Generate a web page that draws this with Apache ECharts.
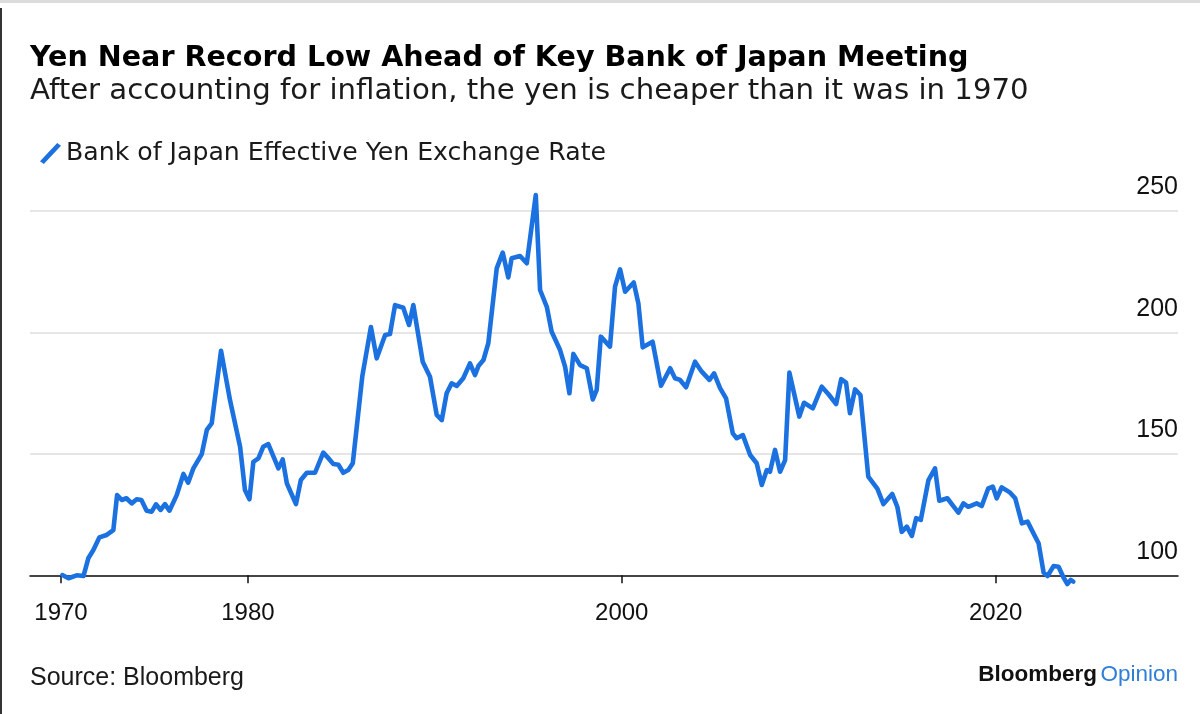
<!DOCTYPE html>
<html>
<head>
<meta charset="utf-8">
<script src="https://cdn.jsdelivr.net/npm/echarts@6/dist/echarts.min.js"></script>
<style>
html,body{margin:0;padding:0;background:#fff;}
#chart{width:1200px;height:714px;}
</style>
</head>
<body>
<div id="chart"></div>
<script>
// ---- Data ----
const dates = [
1970.07,1970.40,1970.84,1971.20,1971.46,1971.73,1972.05,1972.44,1972.80,1973.00,
1973.25,1973.50,1973.78,1974.05,1974.30,1974.58,1974.85,1975.08,1975.33,1975.56,
1975.80,1976.19,1976.55,1976.80,1977.08,1977.53,1977.80,1978.06,1978.56,1979.04,
1979.58,1979.84,1980.08,1980.29,1980.56,1980.82,1981.09,1981.63,1981.86,1982.08,
1982.57,1982.83,1983.15,1983.59,1984.03,1984.35,1984.57,1984.84,1985.10,1985.37,
1985.61,1986.12,1986.58,1986.89,1987.34,1987.60,1987.87,1988.31,1988.62,1988.85,
1989.35,1989.74,1990.10,1990.37,1990.63,1990.90,1991.17,1991.52,1991.88,1992.15,
1992.33,1992.60,1992.86,1993.31,1993.63,1993.93,1994.11,1994.56,1994.92,1995.40,
1995.63,1995.99,1996.25,1996.70,1996.97,1997.20,1997.41,1997.77,1998.13,1998.45,
1998.66,1998.88,1999.37,1999.64,1999.91,2000.18,2000.64,2000.89,2001.12,2001.65,
2002.10,2002.59,2002.85,2003.12,2003.44,2003.92,2004.28,2004.69,2004.94,2005.26,
2005.58,2005.94,2006.15,2006.48,2006.87,2007.22,2007.49,2007.76,2007.93,2008.20,
2008.47,2008.74,2008.97,2009.50,2009.75,2010.22,2010.70,2011.05,2011.47,2011.74,
2012.00,2012.21,2012.48,2012.77,2013.19,2013.68,2014.00,2014.47,2014.75,2014.98,
2015.25,2015.52,2015.75,2016.00,2016.41,2016.76,2016.99,2017.42,2017.74,2018.01,
2018.28,2018.54,2018.99,2019.26,2019.61,2019.85,2020.06,2020.33,2020.78,2021.05,
2021.41,2021.71,2021.94,2022.30,2022.57,2022.78,2023.10,2023.37,2023.63,2023.84,
2024.02,2024.16
];
const values = [
100.1,98.8,100.0,99.7,107.0,110.4,115.6,116.6,118.6,133.0,
131.0,131.7,129.6,131.3,131.0,126.6,126.2,129.2,126.9,129.3,
126.6,133.0,141.7,138.1,144.0,149.9,159.8,162.5,192.4,172.1,
152.9,135.1,131.3,146.7,148.1,152.9,154.0,144.0,147.7,137.9,
129.3,139.2,142.2,142.2,150.5,147.8,145.8,145.5,142.2,143.3,
146.1,182.0,202.2,189.3,198.9,199.3,211.2,210.1,203.0,211.2,
187.9,181.7,166.0,163.9,174.9,179.0,177.9,181.1,187.2,182.4,
186.1,188.6,195.5,226.3,232.8,222.6,230.5,231.4,228.4,256.5,
217.4,210.5,200.2,192.7,185.8,174.9,191.1,186.5,185.2,172.4,
176.3,198.2,194.1,218.8,225.9,216.7,220.5,211.9,193.8,196.1,
178.0,185.2,181.1,180.4,177.4,187.9,183.8,180.4,183.1,177.0,
172.8,158.4,156.4,157.7,149.5,146.1,137.2,143.3,142.6,151.6,
142.6,147.4,183.4,165.3,171.0,168.7,177.6,174.6,170.5,180.7,
179.3,166.7,176.5,174.2,140.6,135.6,129.3,133.5,128.0,117.9,
120.0,116.2,123.5,122.8,139.2,144.0,130.7,131.7,128.5,125.8,
129.6,128.2,129.6,128.5,135.8,136.5,131.7,136.2,134.0,131.7,
121.4,122.1,118.6,113.2,101.1,99.7,103.8,103.5,99.2,96.4,
98.1,97.4
];
const xTickYears = [1970, 1980, 2000, 2020];
const yTicks = [100, 150, 200, 250];
const seriesName = 'Bank of Japan Effective Yen Exchange Rate';
const titleText = 'Yen Near Record Low Ahead of Key Bank of Japan Meeting';
const subtitleText = 'After accounting for inflation, the yen is cheaper than it was in 1970';
const sourceText = 'Source: Bloomberg';

const FONT = '"Liberation Sans", Arial, Helvetica, sans-serif';
const WIDE = '"DejaVu Sans", "Liberation Sans", sans-serif';
const BLUE = '#1b71e0';

// size a text so that it spans the same width as in the reference
function fitSize(text, weight, family, targetWidth) {
  const ctx = document.createElement('canvas').getContext('2d');
  ctx.font = weight + ' 100px ' + family;
  const w = ctx.measureText(text).width;
  return Math.round(100 * targetWidth / w * 10) / 10;
}
const titleSize = fitSize(titleText, 'bold', WIDE, 938);
const subSize = fitSize(subtitleText, 'normal', WIDE, 1000);
const legendSize = fitSize(seriesName, 'normal', WIDE, 541);

const chart = echarts.init(document.getElementById('chart'), null, {renderer: 'canvas'});
const seriesData = dates.map((d, i) => [d, values[i]]);

chart.setOption({
  backgroundColor: '#fff',
  animation: false,
  textStyle: {fontFamily: FONT},
  grid: {left: 30, right: 22, top: 210.8, bottom: 138.7, containLabel: false},
  legend: {
    left: 40, top: 141, padding: 0,
    itemWidth: 21, itemHeight: 21,
    icon: 'path://M0,19 L18,0 L22,3 L4,22 Z',
    textStyle: {fontSize: legendSize, color: '#1a1a1a', fontFamily: WIDE},
    data: [{name: seriesName, itemStyle: {color: BLUE}}]
  },
  xAxis: {
    type: 'value',
    min: 1968.34, max: 2029.76,
    axisLine: {show: true, lineStyle: {color: '#111', width: 1.5}},
    axisTick: {show: true, customValues: xTickYears, length: 8, lineStyle: {color: '#111', width: 1.5}},
    axisLabel: {show: true, customValues: xTickYears, fontSize: 24, color: '#111', margin: 26, fontFamily: FONT,
      formatter: v => String(v)},
    splitLine: {show: false}
  },
  yAxis: {
    type: 'value', position: 'right',
    min: 100, max: 250, interval: 50,
    axisLine: {show: false}, axisTick: {show: false},
    axisLabel: {inside: true, margin: 0, fontSize: 25, color: '#111', fontFamily: FONT,
      verticalAlign: 'bottom', padding: [0, 0, 11, 0],
      formatter: v => (yTicks.indexOf(v) >= 0 ? String(v) : '')},
    splitLine: {show: true, lineStyle: {color: '#e6e6e6', width: 2}}
  },
  series: [{
    name: seriesName,
    type: 'line',
    data: seriesData,
    showSymbol: false,
    symbol: 'none',
    clip: false,
    color: BLUE,
    lineStyle: {color: BLUE, width: 4.6, cap: 'round', join: 'round'},
    z: 5
  }],
  graphic: [
    {type: 'rect', shape: {x: 0, y: 0, width: 1200, height: 3}, style: {fill: '#dcdcdc'}, silent: true},
    {type: 'rect', shape: {x: 0, y: 8, width: 2, height: 706}, style: {fill: '#333'}, silent: true},
    {type: 'text', x: 30, y: 58.5, style: {text: titleText, font: 'bold ' + titleSize + 'px ' + WIDE, fill: '#000', textVerticalAlign: 'middle'}},
    {type: 'text', x: 30, y: 91, style: {text: subtitleText, font: subSize + 'px ' + WIDE, fill: '#1a1a1a', textVerticalAlign: 'middle'}},
    {type: 'text', x: 30, y: 677.7, style: {text: sourceText, font: '25px ' + FONT, fill: '#1a1a1a', textVerticalAlign: 'middle'}},
    {type: 'text', x: 1178, y: 675, style: {
      text: '{b|Bloomberg} {o|Opinion}', align: 'right', verticalAlign: 'middle',
      rich: {
        b: {font: 'bold 22.5px ' + FONT, fill: '#111'},
        o: {font: '22.5px ' + FONT, fill: '#2f7fd8'}
      }
    }}
  ]
});
</script>
</body>
</html>
